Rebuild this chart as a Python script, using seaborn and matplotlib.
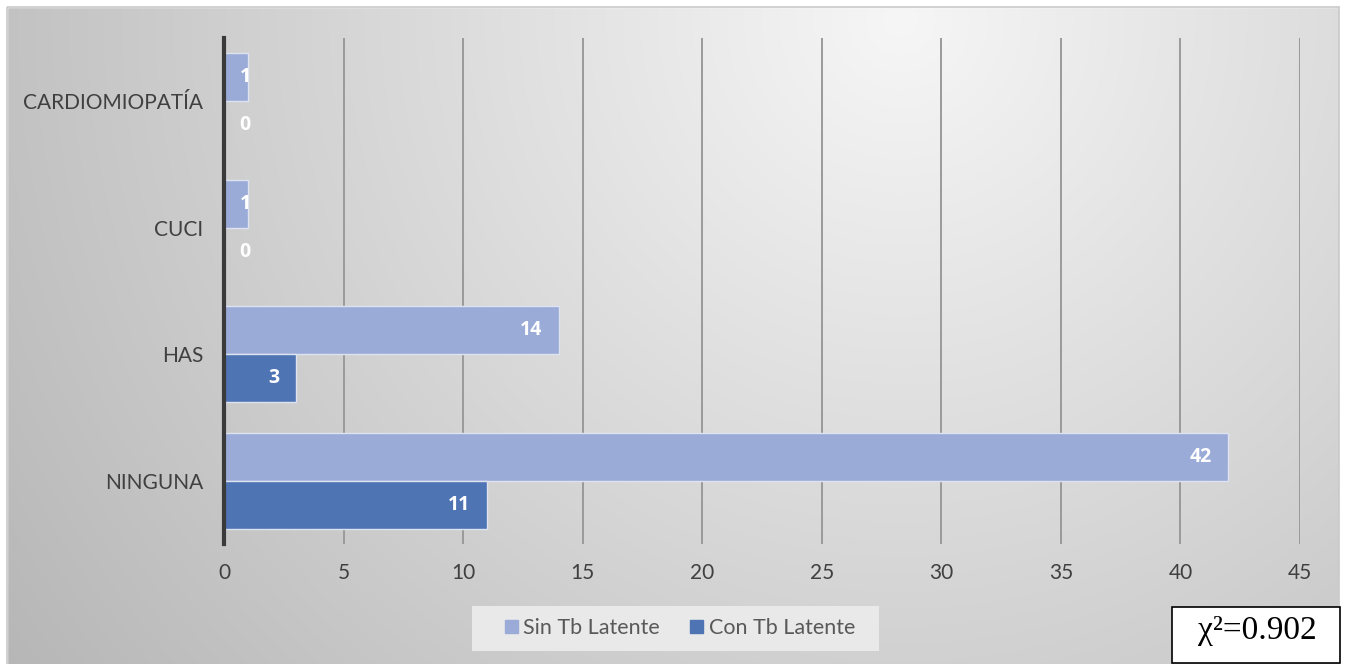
import numpy as np
import pandas as pd
import matplotlib
matplotlib.use("Agg")
import matplotlib.pyplot as plt
from matplotlib.patches import Rectangle
import seaborn as sns

categories = ["CARDIOMIOPATÍA", "CUCI", "HAS", "NINGUNA"]
sin_tb = [1, 1, 14, 42]
con_tb = [0, 0, 3, 11]
series = ["Sin Tb Latente", "Con Tb Latente"]
colors = ["#9BABD8", "#4F74B4"]
xticks = list(range(0, 50, 5))
chi_text = "χ²=0.902"

df = pd.DataFrame({
    "cat": categories * 2,
    "val": sin_tb + con_tb,
    "serie": [series[0]] * len(categories) + [series[1]] * len(categories),
})

sns.set_theme(style="white")
plt.rcParams["font.family"] = ["Lato", "DejaVu Sans"]

W, H = 1345, 664
fig = plt.figure(figsize=(W / 100, H / 100), dpi=100)

# background gradient
bg = fig.add_axes([0, 0, 1, 1], zorder=0)
yy, xx = np.mgrid[0:H, 0:W]
d = np.sqrt((xx - 900.0) ** 2 + (yy - 20.0) ** 2)
v = np.clip(246 - 52 * (d / 900.0), 180, 246) / 255.0
img = np.dstack([v, v, v])
bg.imshow(img, extent=[0, W, H, 0], aspect="auto")
bg.set_xlim(0, W)
bg.set_ylim(H, 0)
bg.axis("off")
for (x0, y0, w, h) in [(0, 0, W, 7), (0, 0, 7, H), (W - 6, 0, 6, H)]:
    bg.add_patch(Rectangle((x0, y0), w, h, color="white", zorder=2))
bg.add_patch(Rectangle((7, 7), W - 13, H, fill=False, edgecolor="#c8c8c8", lw=1.2, zorder=3))

ax = fig.add_axes([224 / W, 1 - 544 / H, (1300 - 224) / W, (544 - 38) / H], zorder=1)
ax.patch.set_alpha(0)
sns.barplot(data=df, y="cat", x="val", hue="serie", orient="h", palette=colors,
            width=0.76, ax=ax, edgecolor="#dde3f0", linewidth=1.0, legend=False,
            saturation=1)
ax.set_xlim(0, 45)
ax.set_ylim(3.5, -0.5)
ax.set_xticks(xticks)
ax.set_xlabel("")
ax.set_ylabel("")
ax.grid(axis="x", color="#9a9a9a", lw=1.4, zorder=0)
ax.set_axisbelow(True)
for s in ["top", "right", "bottom"]:
    ax.spines[s].set_visible(False)
ax.spines["left"].set_color("#3a3a3a")
ax.spines["left"].set_linewidth(3)
ax.tick_params(axis="both", length=0, labelsize=15, labelcolor="#404040")
ax.tick_params(axis="y", pad=15)
ax.tick_params(axis="x", pad=14)

# value labels
for container in ax.containers:
    for bar in container:
        val = bar.get_width()
        yc = bar.get_y() + bar.get_height() / 2
        if val < 2:
            ax.text(0.88, yc, f"{int(val)}", ha="center", va="center", color="white",
                    fontsize=14, fontweight="bold", family=["Open Sans", "DejaVu Sans"])
        else:
            ax.text(val - 0.7, yc, f"{int(val)}", ha="right", va="center", color="white",
                    fontsize=14, fontweight="bold", family=["Open Sans", "DejaVu Sans"])

# legend
bg.add_patch(Rectangle((472, 606), 407, 45, facecolor="#e9e9e9", edgecolor="none", zorder=4))
handles = [Rectangle((0, 0), 1, 1, color=c) for c in colors]
leg = fig.legend(handles, series, loc="center", bbox_to_anchor=(680 / W, 1 - 628 / H),
                 ncol=2, frameon=False, fontsize=15.5, handlelength=0.6, handleheight=0.6,
                 handletextpad=0.25, columnspacing=1.4)
leg.set_zorder(10)
for t in leg.get_texts():
    t.set_color("#595959")

# chi-square box
bg.add_patch(Rectangle((1172, 607), 168, 56, facecolor="white", edgecolor="black", lw=1.2, zorder=4))
bg.text(1257, 631, chi_text, ha="center", va="center", fontsize=24,
        family=["Liberation Serif", "DejaVu Serif"], color="black", zorder=5)

fig.savefig("out.png", dpi=100)
